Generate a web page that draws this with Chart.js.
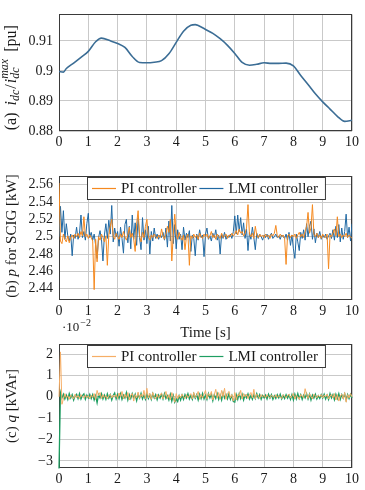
<!DOCTYPE html>
<html><head><meta charset="utf-8">
<script src="https://cdn.jsdelivr.net/npm/chart.js@4.4.0/dist/chart.umd.min.js"></script>
<style>
html,body{margin:0;padding:0;background:#fff;width:365px;height:490px;overflow:hidden;position:relative}
canvas{position:absolute;left:0}
</style></head><body>
<canvas id="ca" width="365" height="155" style="top:0px"></canvas>
<canvas id="cb" width="365" height="190" style="top:155px"></canvas>
<canvas id="cc" width="365" height="175" style="top:315px"></canvas>
<script>
// ---------- data ----------
const xTicks = [0,1,2,3,4,5,6,7,8,9,10];
const xTickLabels = ['0','1','2','3','4','5','6','7','8','9','10'];

const timeA = [0,0.15,0.25,0.5,0.75,1,1.25,1.45,1.75,2,2.25,2.5,2.75,3,3.25,3.5,3.75,4,4.25,4.5,4.65,4.75,5,5.25,5.5,5.75,6,6.25,6.5,6.75,7,7.25,7.5,7.75,8,8.25,8.5,8.75,9,9.25,9.5,9.75,10];
const idcRatio = [0.8998,0.8996,0.9008,0.9026,0.9045,0.9065,0.9097,0.9109,0.9100,0.9091,0.9078,0.9048,0.9028,0.9027,0.9029,0.9034,0.9057,0.9095,0.9132,0.9152,0.9154,0.9151,0.9138,0.9125,0.9107,0.9085,0.9058,0.9028,0.9019,0.9022,0.9027,0.9025,0.9025,0.9026,0.9017,0.8985,0.8955,0.8924,0.8897,0.8873,0.8849,0.8832,0.8836];
const aTicks = [0.88,0.89,0.9,0.91];
const aTickLabels = ['0.88','0.89','0.9','0.91'];

const timePQ = [0,0.05,0.1,0.15,0.2,0.25,0.3,0.35,0.4,0.45,0.5,0.55,0.6,0.65,0.7,0.75,0.8,0.85,0.9,0.95,
1,1.05,1.1,1.15,1.2,1.25,1.3,1.35,1.4,1.45,1.5,1.55,1.6,1.65,1.7,1.75,1.8,1.85,1.9,1.95,
2,2.05,2.1,2.15,2.2,2.25,2.3,2.35,2.4,2.45,2.5,2.55,2.6,2.65,2.7,2.75,2.8,2.85,2.9,2.95,
3,3.05,3.1,3.15,3.2,3.25,3.3,3.35,3.4,3.45,3.5,3.55,3.6,3.65,3.7,3.75,3.8,3.85,3.9,3.95,
4,4.05,4.1,4.15,4.2,4.25,4.3,4.35,4.4,4.45,4.5,4.55,4.6,4.65,4.7,4.75,4.8,4.85,4.9,4.95,
5,5.05,5.1,5.15,5.2,5.25,5.3,5.35,5.4,5.45,5.5,5.55,5.6,5.65,5.7,5.75,5.8,5.85,5.9,5.95,
6,6.05,6.1,6.15,6.2,6.25,6.3,6.35,6.4,6.45,6.5,6.55,6.6,6.65,6.7,6.75,6.8,6.85,6.9,6.95,
7,7.05,7.1,7.15,7.2,7.25,7.3,7.35,7.4,7.45,7.5,7.55,7.6,7.65,7.7,7.75,7.8,7.85,7.9,7.95,
8,8.05,8.1,8.15,8.2,8.25,8.3,8.35,8.4,8.45,8.5,8.55,8.6,8.65,8.7,8.75,8.8,8.85,8.9,8.95,
9,9.05,9.1,9.15,9.2,9.25,9.3,9.35,9.4,9.45,9.5,9.55,9.6,9.65,9.7,9.75,9.8,9.85,9.9,9.95,10];

const pPI = [2.562,2.495,2.492,2.503,2.497,2.494,2.501,2.493,2.499,2.502,
2.498,2.503,2.500,2.504,2.499,2.506,2.501,2.523,2.500,2.503,
2.498,2.502,2.499,2.495,2.439,2.497,2.471,2.500,2.496,2.503,
2.499,2.494,2.501,2.467,2.502,2.512,2.520,2.501,2.497,2.504,
2.500,2.497,2.503,2.499,2.506,2.500,2.496,2.502,2.511,2.499,
2.504,2.497,2.483,2.515,2.530,2.501,2.494,2.505,2.499,2.512,
2.520,2.500,2.496,2.502,2.499,2.503,2.500,2.498,2.502,2.499,
2.509,2.501,2.497,2.503,2.512,2.505,2.520,2.472,2.502,2.526,
2.503,2.497,2.505,2.499,2.496,2.502,2.485,2.500,2.503,2.467,
2.501,2.498,2.503,2.499,2.502,2.497,2.504,2.500,2.498,2.503,
2.500,2.503,2.498,2.501,2.506,2.499,2.502,2.497,2.503,2.500,
2.498,2.504,2.499,2.501,2.503,2.498,2.502,2.500,2.504,2.501,
2.503,2.507,2.502,2.509,2.504,2.506,2.501,2.504,2.510,2.537,
2.503,2.500,2.504,2.498,2.512,2.502,2.499,2.503,2.500,2.502,
2.499,2.503,2.500,2.502,2.498,2.503,2.501,2.504,2.513,2.501,
2.499,2.503,2.500,2.502,2.498,2.468,2.501,2.503,2.499,2.502,
2.500,2.503,2.498,2.502,2.505,2.500,2.503,2.499,2.506,2.512,
2.528,2.504,2.510,2.537,2.503,2.500,2.504,2.499,2.502,2.498,
2.503,2.500,2.499,2.503,2.463,2.502,2.500,2.504,2.509,2.501,
2.523,2.500,2.503,2.499,2.502,2.500,2.504,2.499,2.502,2.500,
2.498];

const pLMI = [2.500,2.535,2.505,2.530,2.497,2.515,2.501,2.495,2.503,2.478,
2.502,2.498,2.511,2.497,2.504,2.525,2.499,2.506,2.496,2.515,
2.527,2.499,2.505,2.496,2.503,2.490,2.475,2.499,2.507,2.497,
2.472,2.502,2.515,2.498,2.519,2.503,2.536,2.494,2.510,2.500,
2.506,2.489,2.511,2.498,2.481,2.514,2.520,2.493,2.512,2.486,
2.525,2.497,2.516,2.490,2.522,2.499,2.485,2.522,2.496,2.508,
2.492,2.512,2.480,2.506,2.495,2.510,2.498,2.503,2.497,2.502,
2.499,2.505,2.496,2.510,2.488,2.518,2.495,2.536,2.492,2.514,
2.486,2.508,2.497,2.503,2.485,2.511,2.496,2.504,2.499,2.507,
2.483,2.502,2.498,2.478,2.503,2.496,2.508,2.499,2.502,2.477,
2.503,2.510,2.497,2.501,2.495,2.504,2.499,2.508,2.496,2.502,
2.480,2.503,2.498,2.505,2.497,2.501,2.499,2.503,2.498,2.506,
2.524,2.503,2.525,2.506,2.522,2.502,2.516,2.498,2.509,2.484,
2.505,2.497,2.511,2.499,2.485,2.504,2.498,2.503,2.500,2.496,
2.502,2.499,2.503,2.497,2.501,2.504,2.498,2.500,2.503,2.499,
2.501,2.497,2.502,2.500,2.498,2.503,2.496,2.505,2.490,2.502,
2.486,2.475,2.503,2.494,2.484,2.505,2.498,2.508,2.496,2.515,
2.500,2.512,2.518,2.497,2.509,2.493,2.504,2.499,2.506,2.497,
2.502,2.499,2.503,2.497,2.501,2.504,2.498,2.508,2.496,2.512,
2.499,2.514,2.494,2.510,2.497,2.506,2.526,2.499,2.511,2.495,
2.515];
const bTicks = [2.44,2.46,2.48,2.5,2.52,2.54,2.56];
const bTickLabels = ['2.44','2.46','2.48','2.5','2.52','2.54','2.56'];

// q in units of 1e-2 kVAr
const qPI = [0,2.1,-0.35,-0.1,0.15,-0.05,0.05,-0.12,0.08,0,
-0.1,0.12,-0.05,0.06,-0.08,0.1,0,-0.06,0.09,-0.04,
0.05,-0.1,0.08,-0.03,0.15,-0.12,0.3,0.05,0.2,-0.08,
0.1,-0.05,0.06,-0.1,0.04,0.12,-0.06,0.08,-0.02,0.1,
-0.08,0.18,0,0.25,-0.1,0.12,-0.05,0.2,-0.15,0.08,
0.15,-0.2,0.1,-0.05,0.22,-0.08,0.12,0,0.3,-0.1,
0.4,-0.05,0.15,-0.12,0.2,0,-0.1,0.12,-0.05,0.08,
0.18,-0.1,0.05,0.25,-0.08,0.1,-0.15,0.2,0,-0.25,
0.15,-0.1,0.08,-0.05,0.12,0,-0.08,0.1,-0.04,0.06,
0.15,-0.1,0.2,-0.05,0.08,0.25,-0.12,0.1,-0.06,0.12,
0.3,-0.1,0.15,0.05,0.25,-0.15,0.1,0.35,-0.05,0.2,
-0.1,0.3,0,0.4,-0.12,0.15,0.25,-0.05,0.1,-0.2,
0.2,-0.15,0.1,0.05,0.3,-0.1,0.15,0,0.12,-0.08,
0.1,0.2,-0.05,0.35,-0.1,0.12,0.05,-0.08,0.1,0,
0.08,-0.05,0.1,0,-0.06,0.08,0.02,-0.04,0.1,-0.05,
0.06,0,-0.08,0.1,0.03,-0.05,0.08,0.12,-0.06,0.05,
0.15,-0.1,0.08,0,-0.12,0.1,0.05,-0.06,0.38,0.1,
-0.08,0.15,0,-0.1,0.12,0.05,-0.05,0.08,0,0.1,
-0.06,0.08,0,0.12,-0.1,0.05,0.1,-0.05,0.15,-0.15,
0.1,-0.2,0.05,0.12,-0.1,0.2,-0.25,0.1,-0.05,0.15,
0];

const qLMI = [-3.35,0.2,-0.05,0.12,-0.1,0.08,-0.12,0.15,-0.05,0.1,
-0.15,0.05,0.12,-0.08,0.15,-0.1,0.06,0.14,-0.12,0.08,
-0.05,0.12,-0.08,0.1,-0.15,0.05,-0.28,0.1,-0.05,0.15,
-0.1,0.08,-0.12,0.14,-0.06,0.1,-0.15,0.06,0.18,-0.1,
0.12,-0.08,0.15,-0.12,0.08,-0.05,0.2,-0.15,0.1,-0.08,
0.15,-0.05,0.12,-0.18,0.1,-0.06,0.16,-0.1,0.08,-0.12,
0.14,-0.08,0.1,-0.12,0.15,-0.05,0.1,-0.14,0.08,-0.06,
0.12,-0.1,0.15,-0.08,0.05,-0.15,0.12,-0.2,0.06,-0.25,
-0.1,-0.22,0.05,-0.15,0.08,-0.12,0.1,-0.05,0.15,-0.1,
0.06,-0.12,0.14,-0.06,0.1,-0.15,0.12,-0.08,0.16,-0.1,
0.08,-0.12,0.15,-0.05,0.12,-0.18,0.1,-0.08,0.15,-0.12,
0.08,-0.15,0.18,-0.06,0.1,-0.1,0.14,-0.12,0.06,-0.22,
-0.25,0.1,-0.12,0.15,-0.08,0.12,-0.15,0.08,-0.05,0.14,
-0.1,0.06,-0.12,0.1,-0.08,0.15,-0.05,0.1,-0.12,0.06,
-0.05,0.08,-0.1,0.12,-0.06,0.1,-0.12,0.05,-0.08,0.1,
-0.05,0.12,-0.1,0.06,-0.08,0.1,-0.06,0.08,-0.12,0.1,
-0.15,0.12,-0.1,0.15,-0.08,0.1,-0.12,0.08,-0.05,0.15,
-0.1,0.12,-0.15,0.08,-0.06,0.12,-0.1,0.05,-0.08,0.1,
-0.06,0.12,-0.1,0.08,-0.12,0.15,-0.05,0.1,-0.14,0.12,
-0.08,0.15,-0.12,0.1,-0.06,0.14,-0.15,0.1,-0.08,0.12,
-0.05];
const cTicks = [-3,-2,-1,0,1,2];
const cTickLabels = ['\u22123','\u22122','\u22121','0','1','2'];

const seriesNames = ['PI controller','LMI controller'];

// ---------- styling helpers ----------
const SERIF = "'Liberation Serif','DejaVu Serif',serif";
const FS = 14;
const GRID = '#c9c9c9';
const FRAME = '#3a3a3a';
const TXT = '#1a1a1a';

const framePlugin = {
  id: 'frame',
  beforeDatasetsDraw(chart) {
    const {ctx, chartArea: a} = chart;
    ctx.save();
    ctx.strokeStyle = FRAME; ctx.lineWidth = 1;
    ctx.strokeRect(Math.round(a.left) + 0.5, Math.round(a.top) + 0.5, Math.round(a.right - a.left) - 1, Math.round(a.bottom - a.top) - 1);
    ctx.restore();
  }
};

const yTitlePlugin = {
  id: 'ytitle',
  afterDraw(chart, args, opts) {
    if (!opts || !opts.segments) return;
    const ctx = chart.ctx, a = chart.chartArea;
    const big = opts.size || FS;
    const small = opts.small || Math.round(FS * 0.7);
    const f = (it, sz) => (it ? 'italic ' : '') + sz + 'px ' + SERIF;
    let total = 0;
    const widths = opts.segments.map(s => {
      let w;
      if (s.stack) {
        ctx.font = f(true, small);
        w = Math.max(ctx.measureText(s.sub).width, ctx.measureText(s.sup).width);
      } else {
        ctx.font = f(s.it, s.sub || s.sup ? small : big);
        w = ctx.measureText(s.t).width;
      }
      w += (s.gap || 0);
      total += w; return w;
    });
    ctx.save();
    ctx.translate(opts.x, (a.top + a.bottom) / 2 + (opts.dy || 0));
    ctx.rotate(-Math.PI / 2);
    ctx.fillStyle = TXT;
    ctx.textBaseline = 'middle';
    ctx.textAlign = 'left';
    let x = -total / 2;
    opts.segments.forEach((s, i) => {
      if (s.stack) {
        ctx.font = f(true, small);
        ctx.fillText(s.sub, x, 4);
        ctx.fillText(s.sup, x, -7);
      } else {
        ctx.font = f(s.it, s.sub || s.sup ? small : big);
        ctx.fillText(s.t, x, s.sub ? 4 : (s.sup ? -7 : 0));
      }
      x += widths[i];
    });
    ctx.restore();
  }
};

const LFS = 15;
const boxLegendPlugin = {
  id: 'boxlegend',
  afterDatasetsDraw(chart, args, opts) {
    if (!opts || !opts.items) return;
    const ctx = chart.ctx, a = chart.chartArea;
    ctx.save();
    ctx.font = LFS + 'px ' + SERIF;
    const lineLen = 24, gapT = 5, gapBetween = 3;
    let w = 6;
    opts.items.forEach((it, i) => { w += lineLen + gapT + ctx.measureText(it.label).width + (i < opts.items.length - 1 ? gapBetween : 6); });
    const h = 22;
    const left = Math.round((a.left + a.right) / 2 - w / 2) + (opts.dx || 0);
    const top = Math.round(a.top) + 1;
    ctx.fillStyle = '#ffffff';
    ctx.fillRect(left, top, w, h);
    ctx.strokeStyle = FRAME; ctx.lineWidth = 1;
    ctx.strokeRect(left + 0.5, top + 0.5, w, h);
    let x = left + 5;
    const cy = top + h / 2 + 0.5;
    opts.items.forEach((it, i) => {
      ctx.strokeStyle = it.color; ctx.lineWidth = 1.2;
      ctx.beginPath(); ctx.moveTo(x, cy); ctx.lineTo(x + lineLen, cy); ctx.stroke();
      x += lineLen + gapT;
      ctx.fillStyle = TXT; ctx.textBaseline = 'middle'; ctx.textAlign = 'left';
      ctx.fillText(it.label, x, cy + 1);
      x += ctx.measureText(it.label).width + gapBetween;
    });
    ctx.restore();
  }
};

const sci = {
  id: 'sci',
  afterDraw(chart, args, opts) {
    if (!opts || !opts.show) return;
    const ctx = chart.ctx;
    ctx.save();
    ctx.fillStyle = TXT; ctx.textBaseline = 'middle'; ctx.textAlign = 'left';
    ctx.font = '13px ' + SERIF;
    ctx.fillText('\u00b710', opts.x, opts.y);
    const w = ctx.measureText('\u00b710').width;
    ctx.font = '10px ' + SERIF;
    ctx.fillText('\u22122', opts.x + w + 1, opts.y - 5);
    ctx.restore();
  }
};

function xScale(height, titleText) {
  return {
    type: 'linear', min: 0, max: 10,
    afterBuildTicks: s => { s.ticks = xTicks.map(v => ({value: v})); },
    afterFit: s => { s.height = height; },
    ticks: { callback: (v, i) => xTickLabels[i], font: {family: SERIF, size: FS}, color: TXT, padding: 3, maxRotation: 0, autoSkip: false },
    grid: { color: GRID, lineWidth: 1, drawTicks: false },
    border: { display: false },
    title: titleText ? { display: true, text: titleText, font: {family: SERIF, size: 15}, color: TXT, padding: {top: 0, bottom: 3} } : { display: false }
  };
}
function yScale(min, max, ticks, labels) {
  return {
    type: 'linear', min: min, max: max,
    afterBuildTicks: s => { s.ticks = ticks.map(v => ({value: v})); },
    afterFit: s => { s.width = 59; },
    ticks: { callback: (v, i) => labels[i], font: {family: SERIF, size: FS}, color: TXT, padding: 6, autoSkip: false },
    grid: { color: GRID, lineWidth: 1, drawTicks: false },
    border: { display: false }
  };
}
const common = { responsive: false, animation: false, devicePixelRatio: 1, events: [] };
const pts = (xs, ys) => xs.map((x, i) => ({x: x, y: ys[i]}));

const ORANGE = '#f5891f';
const BLUE = '#1f68a3';
const ORANGE_L = '#f6ae66';
const GREEN = '#1e9e62';
const ABLUE = '#3b6d95';

// ---------- (a) ----------
new Chart(document.getElementById('ca'), {
  type: 'line',
  data: { datasets: [{ data: pts(timeA, idcRatio), borderColor: ABLUE, borderWidth: 1.6, pointRadius: 0, cubicInterpolationMode: 'monotone', fill: false }] },
  options: Object.assign({}, common, {
    layout: { padding: { top: 9, right: 13, left: 0, bottom: 0 } },
    scales: { x: xScale(24), y: yScale(0.88, 0.9188, aTicks, aTickLabels) },
    plugins: {
      legend: { display: false }, tooltip: { enabled: false },
      ytitle: { x: 12, dy: 5, size: 16, small: 12, segments: [
        {t: '(a)', gap: 7}, {t: 'i', it: true}, {t: 'dc', it: true, sub: true, gap: 1}, {t: '/', gap: 1}, {t: 'i', it: true},
        {stack: true, sub: 'dc', sup: 'max', gap: 7}, {t: '[pu]'}
      ] }
    }
  }),
  plugins: [framePlugin, yTitlePlugin]
});

// ---------- (b) ----------
new Chart(document.getElementById('cb'), {
  type: 'line',
  data: { datasets: [
    { label: seriesNames[0], data: pts(timePQ, pPI), borderColor: ORANGE, borderWidth: 1, pointRadius: 0, tension: 0, fill: false },
    { label: seriesNames[1], data: pts(timePQ, pLMI), borderColor: BLUE, borderWidth: 1, pointRadius: 0, tension: 0, fill: false }
  ] },
  options: Object.assign({}, common, {
    layout: { padding: { top: 21, right: 13, left: 0, bottom: 0 } },
    scales: { x: xScale(45, 'Time [s]'), y: yScale(2.427, 2.570, bTicks, bTickLabels) },
    plugins: {
      legend: { display: false }, tooltip: { enabled: false },
      ytitle: { x: 12, dy: -2, size: 15, segments: [ {t: '(b) '}, {t: 'p', it: true}, {t: ' for SCIG [kW]'} ] },
      boxlegend: { items: [ {label: seriesNames[0], color: ORANGE}, {label: seriesNames[1], color: BLUE} ] }
    }
  }),
  plugins: [framePlugin, yTitlePlugin, boxLegendPlugin]
});

// ---------- (c) ----------
new Chart(document.getElementById('cc'), {
  type: 'line',
  data: { datasets: [
    { label: seriesNames[0], data: pts(timePQ, qPI), borderColor: ORANGE_L, borderWidth: 1, pointRadius: 0, tension: 0, fill: false, clip: 2 },
    { label: seriesNames[1], data: pts(timePQ, qLMI), borderColor: GREEN, borderWidth: 1.3, pointRadius: 0, tension: 0, fill: false, clip: 2 }
  ] },
  options: Object.assign({}, common, {
    layout: { padding: { top: 29, right: 13, left: 0, bottom: 0 } },
    scales: { x: xScale(22), y: yScale(-3.33, 2.47, cTicks, cTickLabels) },
    plugins: {
      legend: { display: false }, tooltip: { enabled: false },
      ytitle: { x: 12, size: 15, segments: [ {t: '(c) '}, {t: 'q', it: true}, {t: ' [kVAr]'} ] },
      boxlegend: { items: [ {label: seriesNames[0], color: ORANGE_L}, {label: seriesNames[1], color: GREEN} ] },
      sci: { show: true, x: 62, y: 13 }
    }
  }),
  plugins: [framePlugin, yTitlePlugin, boxLegendPlugin, sci]
});
</script>
</body></html>
